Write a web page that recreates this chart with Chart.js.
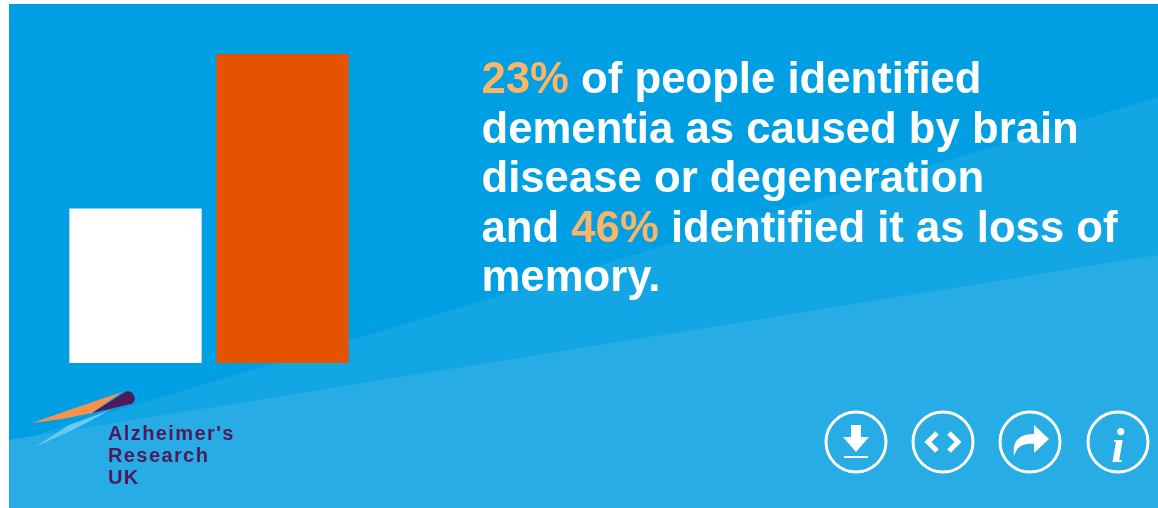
<!DOCTYPE html>
<html>
<head>
<meta charset="utf-8">
<script src="https://cdn.jsdelivr.net/npm/chart.js@4"></script>
<style>
html, body { margin: 0; padding: 0; background: #fff; overflow: hidden; }
#panel { position: absolute; left: 9px; top: 4px; width: 1149px; height: 504px; background: #009fe3; overflow: hidden; }
#panel svg.bg { position: absolute; left: 0; top: 0; }
#wrap { position: absolute; left: 53px; top: 50px; width: 294px; height: 309px; }
#txt { position: absolute; left: 472.5px; top: 49px; width: 670px; color: #fff; font: bold 43.7px/49.5px "Liberation Sans", Arial, sans-serif; white-space: nowrap; filter: blur(0.5px); }
#txt b { color: #f9b568; }
#logo { position: absolute; left: 99px; top: 418px; color: #4e1a5a; font: bold 20px/22px "Liberation Sans", Arial, sans-serif; letter-spacing: 1.4px; filter: blur(0.6px); }
.ico { position: absolute; top: 406px; filter: blur(0.4px); }
</style>
</head>
<body>
<div id="panel">
<svg class="bg" width="1149" height="504">
<polygon points="0,439 1149,93 1149,504 0,504" fill="#12a6e5"/>
<polygon points="0,436 1149,251 1149,504 0,504" fill="#27ace5"/>
<polygon points="23,419 66,404 113,388 83,409 53,415" fill="#f7924e"/>
<path d="M83,409 L117,387.5 A7,7 0 0 1 123,399.7 Z" fill="#4e1a5a"/>
<polygon points="26,443 60,421 101,406 68,424" fill="#6cc8f0"/>
</svg>
<div id="wrap"><canvas id="bars"></canvas></div>
<div id="txt"><b>23%</b> of people identified<br>dementia as caused by brain<br>disease or degeneration<br>and <b>46%</b> identified it as loss of<br>memory.</div>
<div id="logo">Alzheimer's<br>Research<br>UK</div>
<svg class="ico" style="left:815px" width="64" height="64" fill="none" stroke="#fff" stroke-width="3"><circle cx="32" cy="32" r="30"/><path d="M27 15h10v12h8L32 42 19 27h8z" fill="#fff" stroke="none"/><path d="M20 47h24" stroke-width="2"/></svg>
<svg class="ico" style="left:902px" width="64" height="64" fill="none" stroke="#fff" stroke-width="3"><circle cx="32" cy="32" r="30"/><path d="M26 23l-9 9 9 9M38 23l9 9-9 9" stroke-width="5"/></svg>
<svg class="ico" style="left:989px" width="64" height="64" fill="none" stroke="#fff" stroke-width="3"><circle cx="32" cy="32" r="30"/><path d="M16 46C14 30 22 24 36 24V15l15 14-15 14v-9C26 33 19 36 16 46z" fill="#fff" stroke="none"/></svg>
<svg class="ico" style="left:1077px" width="64" height="64" fill="none" stroke="#fff" stroke-width="3"><circle cx="32" cy="32" r="30"/><text x="32" y="52" text-anchor="middle" fill="#fff" stroke="none" style="font:italic bold 48px 'Liberation Serif',serif">i</text></svg>
</div>
<script>
// Valores (porcentaje de personas)
const categorias = ['Brain disease or degeneration', 'Loss of memory'];
const porcentajes = [23, 46];
const coloresBarras = ['#ffffff', '#e65300'];

const ctx = document.getElementById('bars').getContext('2d');
new Chart(ctx, {
    type: 'bar',
    data: {
        labels: categorias,
        datasets: [{
            data: porcentajes,
            backgroundColor: coloresBarras,
            borderWidth: 0,
            barPercentage: 0.9,
            categoryPercentage: 1
        }]
    },
    options: {
        responsive: true,
        maintainAspectRatio: false,
        animation: false,
        layout: { padding: 0 },
        plugins: { legend: { display: false }, tooltip: { enabled: false } },
        scales: {
            x: { display: false },
            y: { display: false, min: 0, max: 46 }
        }
    }
});
</script>
</body>
</html>
